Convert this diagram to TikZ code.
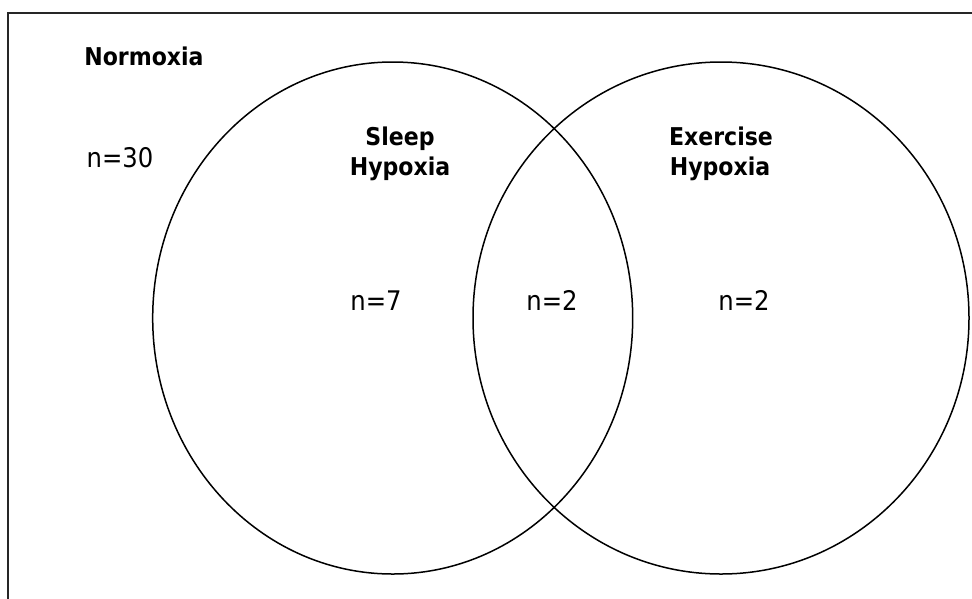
\documentclass[tikz,border=0pt]{standalone}
\usepackage{fontspec}
\setmainfont{DejaVu Sans Condensed}
\begin{document}
\begin{tikzpicture}[x=1pt,y=-1pt,
  set/.style={draw=black,line width=1.5pt},
  frame/.style={draw=black!85,line width=2pt},
  head/.style={inner sep=0pt,anchor=base,font=\fontsize{24.5}{30}\selectfont\bfseries},
  count/.style={inner sep=0pt,anchor=base,font=\fontsize{27}{32}\selectfont}]
\useasboundingbox (0,0) rectangle (972,598);
\draw[frame] (975,13) -- (8,13) -- (8,601);
\draw[set] (392.7,318) ellipse [x radius=240, y radius=256];
\draw[set] (721,318) ellipse [x radius=248, y radius=256];
\node[head] (normoxia) at (144,65) {Normoxia};
\node[count] (n30) at (120,167) {n=30};
\node[head] (sleep1) at (400,145) {Sleep};
\node[head] (sleep2) at (400,175) {Hypoxia};
\node[head] (ex1) at (721,145) {Exercise};
\node[head] (ex2) at (720,175) {Hypoxia};
\node[count] (n7) at (376,310) {n=7};
\node[count] (n2a) at (552,310) {n=2};
\node[count] (n2b) at (744,310) {n=2};
\end{tikzpicture}
\end{document}
